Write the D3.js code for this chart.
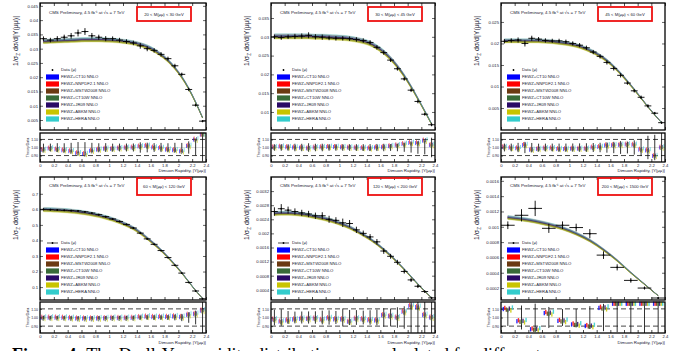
<!DOCTYPE html>
<html lang="en">
<head>
<meta charset="UTF-8">
<title>Drell-Yan rapidity distributions</title>
<script src="https://cdn.jsdelivr.net/npm/d3@7"></script>
<style>
	body { margin: 0; background: #fff; }
	svg text { font-family: "Liberation Sans", Arial, sans-serif; }
	.caption { font-family: "Liberation Serif", "Times New Roman", serif; }
</style>
</head>
<body>
<div id="viz"></div>
<script>
// ---------- values ----------
var xTicks = [0, 0.2, 0.4, 0.6, 0.8, 1, 1.2, 1.4, 1.6, 1.8, 2, 2.2, 2.4];
var rapFine = [0.05, 0.15, 0.25, 0.35, 0.45, 0.55, 0.65, 0.75, 0.85, 0.95, 1.05, 1.15,
	1.25, 1.35, 1.45, 1.55, 1.65, 1.75, 1.85, 1.95, 2.05, 2.15, 2.25, 2.35];
var rapWide = [0.1, 0.3, 0.5, 0.7, 0.9, 1.1, 1.3, 1.5, 1.7, 1.9, 2.1, 2.3];

var massRanges = ['20 < M(\u03bc\u03bc) < 30 GeV', '30 < M(\u03bc\u03bc) < 45 GeV', '45 < M(\u03bc\u03bc) < 60 GeV',
	'60 < M(\u03bc\u03bc) < 120 GeV', '120 < M(\u03bc\u03bc) < 200 GeV', '200 < M(\u03bc\u03bc) < 1500 GeV'];

var modelNames = ['FEWZ+CT10 NNLO', 'FEWZ+NNPDF2.1 NNLO', 'FEWZ+MSTW2008 NNLO', 'FEWZ+CT10W NNLO',
	'FEWZ+JR09 NNLO', 'FEWZ+ABKM NNLO', 'FEWZ+HERA NNLO'];
var modelColors = ['#0000ff', '#ff0000', '#6b3a12', '#386b38', '#2a0a66', '#c8c400', '#33cccc'];
// relative offset of each PDF prediction from the central curve
var modelShift = [0.000, 0.012, -0.006, -0.010, 0.005, -0.015, 0.016];

var data20 = [0.0335, 0.0330, 0.0335, 0.0340, 0.0345, 0.0355, 0.0360, 0.0345, 0.0340, 0.0335, 0.0335, 0.0330,
	0.0325, 0.0320, 0.0310, 0.0300, 0.0294, 0.0280, 0.0265, 0.0240, 0.0210, 0.0157, 0.0102, 0.0046];
var err20 = [0.0008, 0.0008, 0.0009, 0.0009, 0.0010, 0.0012, 0.0012, 0.0010, 0.0009, 0.0009, 0.0008, 0.0008,
	0.0008, 0.0008, 0.0010, 0.0009, 0.0008, 0.0008, 0.0007, 0.0007, 0.0006, 0.0006, 0.0005, 0.0004];
var theo20 = [0.0325, 0.0326, 0.0327, 0.0328, 0.0329, 0.0330, 0.0331, 0.0331, 0.0331, 0.0330, 0.0329, 0.0327,
	0.0324, 0.0320, 0.0314, 0.0306, 0.0294, 0.0278, 0.0258, 0.0232, 0.0200, 0.0160, 0.0112, 0.0058];

var data30 = [0.0300, 0.0298, 0.0300, 0.0301, 0.0302, 0.0304, 0.0300, 0.0299, 0.0297, 0.0296, 0.0296, 0.0295,
	0.0293, 0.0290, 0.0285, 0.0272, 0.0258, 0.0238, 0.0215, 0.0188, 0.0158, 0.0128, 0.0094, 0.0066];
var err30 = [0.0006, 0.0006, 0.0006, 0.0007, 0.0007, 0.0008, 0.0007, 0.0007, 0.0006, 0.0006, 0.0006, 0.0006,
	0.0006, 0.0006, 0.0006, 0.0006, 0.0006, 0.0005, 0.0005, 0.0005, 0.0005, 0.0005, 0.0004, 0.0004];
var theo30 = [0.0301, 0.0301, 0.0301, 0.0301, 0.0301, 0.0301, 0.0300, 0.0300, 0.0299, 0.0298, 0.0297, 0.0295,
	0.0292, 0.0288, 0.0282, 0.0272, 0.0259, 0.0242, 0.0221, 0.0196, 0.0167, 0.0135, 0.0102, 0.0068];

var data45 = [0.0205, 0.0207, 0.0208, 0.0200, 0.0212, 0.0210, 0.0207, 0.0206, 0.0206, 0.0204, 0.0200, 0.0196,
	0.0190, 0.0180, 0.0170, 0.0156, 0.0142, 0.0126, 0.0108, 0.0090, 0.0075, 0.0055, 0.0038, 0.0016];
var err45 = [0.0005, 0.0005, 0.0006, 0.0007, 0.0006, 0.0005, 0.0005, 0.0005, 0.0005, 0.0005, 0.0005, 0.0005,
	0.0005, 0.0005, 0.0005, 0.0005, 0.0005, 0.0005, 0.0004, 0.0004, 0.0004, 0.0004, 0.0003, 0.0003];
var theo45 = [0.0206, 0.0206, 0.0206, 0.0206, 0.0206, 0.0206, 0.0205, 0.0204, 0.0202, 0.0200, 0.0197, 0.0193,
	0.0187, 0.0180, 0.0171, 0.0160, 0.0146, 0.0130, 0.0112, 0.0093, 0.0073, 0.0053, 0.0034, 0.0016];

var data60 = [0.600, 0.598, 0.596, 0.594, 0.592, 0.590, 0.584, 0.576, 0.566, 0.553, 0.538, 0.522,
	0.503, 0.480, 0.447, 0.410, 0.375, 0.335, 0.290, 0.240, 0.190, 0.130, 0.075, 0.025];
var err60 = [0.006, 0.005, 0.005, 0.005, 0.005, 0.005, 0.005, 0.005, 0.005, 0.005, 0.005, 0.005,
	0.005, 0.005, 0.005, 0.005, 0.005, 0.004, 0.004, 0.004, 0.004, 0.004, 0.003, 0.003];
var theo60 = [0.598, 0.597, 0.595, 0.592, 0.588, 0.583, 0.577, 0.569, 0.560, 0.548, 0.535, 0.519,
	0.500, 0.478, 0.449, 0.414, 0.377, 0.337, 0.292, 0.243, 0.191, 0.134, 0.078, 0.027];

var data120 = [0.00262, 0.00270, 0.00266, 0.00262, 0.00258, 0.00255, 0.00250, 0.00250, 0.00240, 0.00237, 0.00230, 0.00228,
	0.00210, 0.00200, 0.00190, 0.00176, 0.00150, 0.00135, 0.00118, 0.00092, 0.00068, 0.00050, 0.00035, 0.00017];
var err120 = [0.00012, 0.00013, 0.00010, 0.00009, 0.00009, 0.00009, 0.00009, 0.00010, 0.00010, 0.00009, 0.00012, 0.00010,
	0.00009, 0.00008, 0.00008, 0.00008, 0.00008, 0.00007, 0.00007, 0.00006, 0.00006, 0.00005, 0.00004, 0.00003];
var theo120 = [0.00256, 0.00257, 0.00257, 0.00256, 0.00254, 0.00251, 0.00247, 0.00243, 0.00238, 0.00232, 0.00225, 0.00217,
	0.00207, 0.00196, 0.00184, 0.00170, 0.00154, 0.00137, 0.00118, 0.00098, 0.00077, 0.00056, 0.00036, 0.00017];

var data200 = [0.00102, 0.00115, 0.00124, 0.00098, 0.00102, 0.00099, 0.00091, 0.00063, 0.00047, 0.00030, 0.00020, 0.00007];
var err200 = [0.00005, 0.00008, 0.00010, 0.00006, 0.00005, 0.00005, 0.00006, 0.00005, 0.00004, 0.00003, 0.00002, 0.00001];
var theo200 = [0.00112, 0.00110, 0.00107, 0.00103, 0.00098, 0.00091, 0.00082, 0.00070, 0.00056, 0.00040, 0.00025, 0.00010];

var yTicks20 = [0.005, 0.01, 0.015, 0.02, 0.025, 0.03, 0.035, 0.04, 0.045];
var yTicks30 = [0.01, 0.015, 0.02, 0.025, 0.03, 0.035];
var yTicks45 = [0.005, 0.01, 0.015, 0.02, 0.025];
var yTicks60 = [0.1, 0.2, 0.3, 0.4, 0.5, 0.6, 0.7];
var yTicks120 = [0.0004, 0.0008, 0.0012, 0.0016, 0.002, 0.0024, 0.0028, 0.0032];
var yTicks200 = [0.0002, 0.0004, 0.0006, 0.0008, 0.001, 0.0012, 0.0014, 0.0016];
var ratioTicks = [0.9, 1, 1.1];

// ---------- layout ----------
var W = 678, H = 351;
var cols = [[40, 206], [271, 435], [501, 665]];
var rows = [
	{main: [3, 130], ratio: [133, 162], tickY: 166, titleY: 172, legY: 70, boxY: 4, boxH: 14, cmsY: 14},
	{main: [177, 300], ratio: [302, 333], tickY: 338, titleY: 344, legY: 243, boxY: 1, boxH: 17, cmsY: 187}
];

var panels = [
	{x: rapFine, data: data20, err: err20, theo: theo20, yTicks: yTicks20, dom: [0.0015, 0.046], hw: 0.05},
	{x: rapFine, data: data30, err: err30, theo: theo30, yTicks: yTicks30, dom: [0.0052, 0.039], hw: 0.05},
	{x: rapFine, data: data45, err: err45, theo: theo45, yTicks: yTicks45, dom: [-0.0001, 0.0294], hw: 0.05},
	{x: rapFine, data: data60, err: err60, theo: theo60, yTicks: yTicks60, dom: [0.017, 0.808], hw: 0.05},
	{x: rapFine, data: data120, err: err120, theo: theo120, yTicks: yTicks120, dom: [0.00011, 0.0036], hw: 0.05},
	{x: rapWide, data: data200, err: err200, theo: theo200, yTicks: yTicks200, dom: [0.000044, 0.00165], hw: 0.1}
];

var svg = d3.select('#viz').append('svg')
	.attr('width', W)
	.attr('height', H);

svg.append('rect').attr('width', W).attr('height', H).attr('fill', '#fff');

panels.forEach(function (p, i) {
	var row = rows[Math.floor(i / 3)];
	var col = cols[i % 3];
	var left = col[0], right = col[1];
	var top = row.main[0], bot = row.main[1];

	var x = d3.scaleLinear().domain([0, 2.4]).range([left, right]);
	var y = d3.scaleLinear().domain(p.dom).range([bot, top]);
	var yr = d3.scaleLinear().domain([0.82, 1.18]).range([row.ratio[1], row.ratio[0]]);

	var g = svg.append('g');

	// theory bands, one per PDF set
	modelShift.forEach(function (s, k) {
		var band = d3.area()
			.curve(d3.curveMonotoneX)
			.x(function (d, j) { return x(p.x[j]); })
			.y0(function (d) { return y(d * (1 + s) * 0.992); })
			.y1(function (d) { return y(d * (1 + s) * 1.008); });
		g.append('path')
			.datum(p.theo)
			.attr('d', band)
			.attr('fill', modelColors[k])
			.attr('fill-opacity', 0.45)
			.attr('stroke', modelColors[k])
			.attr('stroke-opacity', 0.6)
			.attr('stroke-width', 0.4);
	});

	// data points
	var pts = g.selectAll('.pt').data(p.data).enter().append('g');
	pts.append('line')
		.attr('x1', function (d, j) { return x(p.x[j] - p.hw); })
		.attr('x2', function (d, j) { return x(p.x[j] + p.hw); })
		.attr('y1', function (d) { return y(d); })
		.attr('y2', function (d) { return y(d); })
		.attr('stroke', '#000').attr('stroke-width', 0.9);
	pts.append('line')
		.attr('x1', function (d, j) { return x(p.x[j]); })
		.attr('x2', function (d, j) { return x(p.x[j]); })
		.attr('y1', function (d, j) { return y(d - p.err[j]); })
		.attr('y2', function (d, j) { return y(d + p.err[j]); })
		.attr('stroke', '#000').attr('stroke-width', 0.9);
	pts.append('circle')
		.attr('cx', function (d, j) { return x(p.x[j]); })
		.attr('cy', function (d) { return y(d); })
		.attr('r', 0.9).attr('fill', '#000');

	// axes (ticks pointing inward)
	svg.append('g').attr('transform', 'translate(' + left + ',0)')
		.call(d3.axisLeft(y).tickValues(p.yTicks).tickSize(-3).tickPadding(2).tickFormat(String))
		.call(function (a) {
			a.select('.domain').remove();
			a.selectAll('text').attr('font-size', 4.2).attr('fill', '#223');
			a.selectAll('line').attr('stroke-width', 0.6);
		});
	svg.append('g').attr('transform', 'translate(' + right + ',0)')
		.call(d3.axisRight(y).tickValues(p.yTicks).tickSize(-3).tickFormat(''))
		.call(function (a) { a.select('.domain').remove(); a.selectAll('line').attr('stroke-width', 0.6); });
	svg.append('g').attr('transform', 'translate(0,' + top + ')')
		.call(d3.axisTop(x).tickValues(xTicks).tickSize(-3).tickFormat(''))
		.call(function (a) { a.select('.domain').remove(); a.selectAll('line').attr('stroke-width', 0.7); });
	svg.append('g').attr('transform', 'translate(0,' + bot + ')')
		.call(d3.axisBottom(x).tickValues(xTicks).tickSize(-3).tickFormat(''))
		.call(function (a) { a.select('.domain').remove(); a.selectAll('line').attr('stroke-width', 0.7); });

	svg.append('rect')
		.attr('x', left).attr('y', top)
		.attr('width', right - left).attr('height', bot - top)
		.attr('fill', 'none').attr('stroke', '#000').attr('stroke-width', 1.3);

	// header text and red mass box
	svg.append('text')
		.attr('x', left + 9).attr('y', row.cmsY)
		.attr('font-size', 4.4).attr('fill', '#223')
		.text('CMS Preliminary, 4.5 fb\u207b\u00b9 at \u221as = 7 TeV');
	svg.append('rect')
		.attr('x', left + 97).attr('y', top + row.boxY)
		.attr('width', 54).attr('height', row.boxH)
		.attr('fill', 'none').attr('stroke', '#ee1111').attr('stroke-width', 1.8);
	svg.append('text')
		.attr('x', left + 124).attr('y', top + row.boxY + row.boxH / 2 + 1.5)
		.attr('text-anchor', 'middle')
		.attr('font-size', 4.2).attr('fill', '#223')
		.text(massRanges[i]);

	// legend
	var lx = left + 6, ly = row.legY;
	var dl = svg.append('g');
	if (i >= 3) {
		dl.append('line').attr('x1', lx + 1).attr('x2', lx + 12).attr('y1', ly).attr('y2', ly)
			.attr('stroke', '#000').attr('stroke-width', 0.7);
	}
	dl.append('circle').attr('cx', lx + 6.5).attr('cy', ly).attr('r', 0.9).attr('fill', '#000');
	dl.append('text').attr('x', lx + 15).attr('y', ly + 1.4).attr('font-size', 4.2).attr('fill', '#223')
		.text('Data (\u03bc)');
	modelNames.forEach(function (name, k) {
		var yy = ly + 7 * (k + 1);
		svg.append('rect')
			.attr('x', lx).attr('y', yy - 2.6)
			.attr('width', 13).attr('height', 5.2)
			.attr('fill', modelColors[k]);
		svg.append('text')
			.attr('x', lx + 15).attr('y', yy + 1.4)
			.attr('font-size', 4.2).attr('fill', '#223')
			.text(name);
	});

	// y-axis title
	var yt = svg.append('text')
		.attr('transform', 'translate(' + (left - 22) + ',' + (top + 38) + ') rotate(-90)')
		.attr('text-anchor', 'middle')
		.attr('font-size', 7).attr('fill', '#223');
	yt.append('tspan').text('1/\u03c3');
	yt.append('tspan').attr('font-size', 4.5).attr('dy', 1.5).text('Z');
	yt.append('tspan').attr('dy', -1.5).text(' d\u03c3/d|Y(\u03bc\u03bc)|');

	// ---- ratio panel ----
	var rg = svg.append('g');
	[0.9, 1.1].forEach(function (v) {
		rg.append('line')
			.attr('x1', left).attr('x2', right)
			.attr('y1', yr(v)).attr('y2', yr(v))
			.attr('stroke', '#333').attr('stroke-width', 0.9)
			.attr('stroke-dasharray', '5,3');
	});
	rg.append('line')
		.attr('x1', left).attr('x2', right)
		.attr('y1', yr(1)).attr('y2', yr(1))
		.attr('stroke', '#bbb').attr('stroke-width', 0.5);

	// data uncertainty around 1
	p.data.forEach(function (d, j) {
		var rel = p.err[j] / d;
		rg.append('line')
			.attr('x1', x(p.x[j])).attr('x2', x(p.x[j]))
			.attr('y1', yr(Math.max(0.82, 1 - 2 * rel))).attr('y2', yr(Math.min(1.18, 1 + 2 * rel)))
			.attr('stroke', '#000').attr('stroke-width', 0.8);
	});

	// theory / data per PDF set
	var step = (x(p.hw) - x(0)) * 2 / 9;
	p.data.forEach(function (d, j) {
		modelShift.forEach(function (s, k) {
			var r = p.theo[j] * (1 + s) / d;
			var rc = Math.max(0.84, Math.min(1.16, r));
			rg.append('rect')
				.attr('x', x(p.x[j]) + (k - 3) * step - step * 0.45)
				.attr('y', yr(rc + 0.025))
				.attr('width', step * 0.9)
				.attr('height', yr(rc - 0.025) - yr(rc + 0.025))
				.attr('fill', modelColors[k])
				.attr('fill-opacity', 0.85);
		});
	});

	svg.append('g').attr('transform', 'translate(' + left + ',0)')
		.call(d3.axisLeft(yr).tickValues(ratioTicks).tickSize(-2).tickPadding(2))
		.call(function (a) {
			a.select('.domain').remove();
			a.selectAll('text').attr('font-size', 3.5).attr('fill', '#223');
			a.selectAll('line').attr('stroke-width', 0.6);
		});
	svg.append('g').attr('transform', 'translate(0,' + row.ratio[1] + ')')
		.call(d3.axisBottom(x).tickValues(xTicks).tickSize(-3).tickPadding(2).tickFormat(d3.format('~g')))
		.call(function (a) {
			a.select('.domain').remove();
			a.selectAll('text').attr('font-size', 4.2).attr('fill', '#223');
			a.selectAll('line').attr('stroke-width', 0.7);
		});
	svg.append('rect')
		.attr('x', left).attr('y', row.ratio[0])
		.attr('width', right - left).attr('height', row.ratio[1] - row.ratio[0])
		.attr('fill', 'none').attr('stroke', '#000').attr('stroke-width', 1.3);

	svg.append('text')
		.attr('transform', 'translate(' + (left - 11) + ',' + ((row.ratio[0] + row.ratio[1]) / 2) + ') rotate(-90)')
		.attr('text-anchor', 'middle')
		.attr('font-size', 3.5).attr('fill', '#223')
		.text('Theory/Data');

	svg.append('text')
		.attr('x', right).attr('y', row.titleY)
		.attr('text-anchor', 'end')
		.attr('font-size', 4.4).attr('fill', '#223')
		.text('Dimuon Rapidity, |Y(\u03bc\u03bc)|');
});

// caption, cut off at the bottom edge of the picture
var cap = svg.append('text')
	.attr('class', 'caption')
	.attr('x', 12).attr('y', 361)
	.attr('font-size', 18).attr('fill', '#000');
cap.append('tspan').attr('font-weight', 'bold').text('Figure 4:');
cap.append('tspan').text(' The Drell-Yan rapidity distributions are calculated for different');
</script>
</body>
</html>
